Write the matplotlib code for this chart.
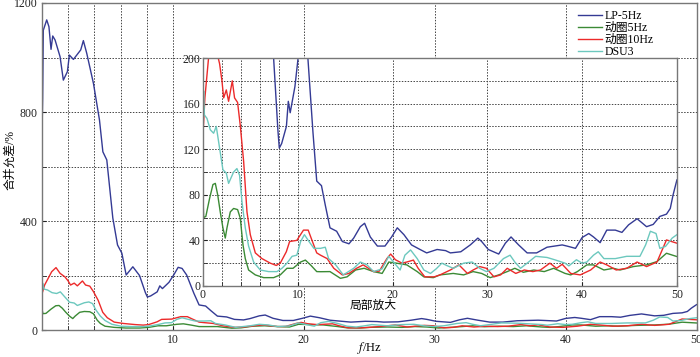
import numpy as np
import matplotlib
matplotlib.use('Agg')
import matplotlib.pyplot as plt

plt.rcParams['font.family'] = ['Liberation Serif', 'Noto Sans CJK SC']
plt.rcParams['mathtext.fontset'] = 'stix'

# LP-5Hz
f_lp = [0, 0.05, 0.1, 0.36, 0.53, 0.69, 0.82, 1.0, 1.38, 1.63, 1.94, 2.09, 2.4, 2.96, 3.16, 3.42,
        3.93, 4.39, 4.65, 4.95, 5.41, 5.77, 6.1, 6.43, 6.94, 7.45, 7.9, 8.05, 8.3, 8.8, 9.0, 9.2, 9.7,
        10.1, 10.4, 10.7, 11.05, 11.6, 12.0, 12.5, 12.9, 13.4, 14.1, 14.7, 15.4, 15.9, 16.6, 17.05,
        17.65, 18.4, 19.2, 19.9, 20.5, 21.2, 22.0, 22.9, 23.6, 24.7, 25.6, 26.1, 27.2, 28.2, 29.0,
        29.4, 30.1, 31.2, 31.9, 32.5, 33.3, 34.2, 35.2, 36.3, 37.1, 37.9, 38.4, 39.3, 40.0, 40.7,
        41.2, 41.9, 42.6, 43.5, 44.2, 44.9, 45.8, 46.8, 47.5, 48.2, 48.9, 49.3, 49.6, 50]
v_lp = [720, 850, 1100, 1138, 1113, 1030, 1079, 1064, 1003, 917, 948, 1009, 993, 1028, 1062, 1015,
        905, 771, 654, 624, 411, 312, 282, 202, 232, 200, 137, 121, 125, 140, 162, 152, 175,
        205, 230, 226, 202, 135, 92, 88, 71, 51, 48, 39, 37, 42, 52, 55,
        43, 35, 35, 43, 51, 45, 36, 32, 29, 32, 31, 29, 30, 36, 42,
        39, 32, 28, 37.5, 43, 36, 29, 29, 34, 35, 36, 35, 33, 42.5, 46,
        43, 38, 49, 49, 47, 53.6, 59, 52, 54, 61, 63, 68, 80, 93]

# 动圈5Hz
f_g5 = [0, 0.07, 0.3, 0.7, 1.05, 1.3, 1.55, 1.82, 2.1, 2.35, 2.53, 2.88, 3.23, 3.65, 3.93, 4.22,
        4.46, 4.81, 5.52, 6.4, 7.45, 8.15, 8.86, 9.5, 10.3, 10.8, 11.4, 12.0, 12.4, 13.4, 14.5,
        15.2, 16.1, 17.0, 18.0, 18.9, 19.6, 20.4, 21.5, 22.6, 23.3, 24.3, 25.0, 26.4, 27.5, 28.5,
        29.4, 30.3, 31.2, 32.1, 32.9, 33.8, 34.9, 36.0, 37.0, 38.2, 38.8, 39.5, 40.5, 41.2, 42.3,
        43.3, 44.0, 45.4, 46.8, 47.9, 48.9, 50]
v_g5 = [77, 60, 61, 77, 89, 90, 80, 65, 51, 42, 51, 65, 68, 67, 59.5, 36,
        24, 14, 9.7, 7.3, 7.3, 9.7, 15.5, 15.5, 21, 22.7, 18, 12.6, 12.5, 12.6, 6.7,
        8, 14, 15.5, 12.6, 11, 21, 20, 18.5, 12.6, 8, 7.3, 9.7, 11, 9.7, 12.6,
        11, 7.3, 9.7, 12.6, 15.5, 12, 14, 12.6, 15.5, 11, 9.7, 12.6, 18.5, 18.5, 14,
        15.5, 14, 17, 18.5, 21.4, 28.7, 25.8]

# 动圈10Hz
f_g10 = [0, 0.2, 0.74, 1.07, 1.38, 1.75, 2.0, 2.18, 2.46, 2.7, 3.09, 3.33, 3.65, 3.93, 4.29, 4.64,
         4.99, 5.52, 6.22, 7.1, 7.73, 8.15, 8.79, 9.14, 9.9, 10.6, 11.1, 11.5, 12.0, 12.4, 13.1,
         13.8, 14.7, 15.4, 16.2, 16.9, 18.0, 18.6, 19.4, 19.8, 20.3, 21.0, 21.5, 22.2, 22.7, 23.4,
         24.4, 25.0, 26.1, 27.0, 27.9, 28.5, 29.2, 29.9, 30.7, 31.4, 32.1, 33.0, 33.9, 34.8, 35.6,
         36.6, 37.3, 37.9, 38.8, 39.8, 40.9, 41.9, 42.6, 43.6, 44.7, 45.8, 46.8, 47.9, 48.9, 50]
v_g10 = [133, 165, 214, 229, 208, 195, 180, 165, 172, 162, 180, 165, 161, 141, 109, 65,
         45, 29, 24, 20, 18, 20, 30, 39, 40, 49, 49, 40, 29, 27, 24,
         15.5, 9.7, 11, 15.5, 18.5, 12.6, 13, 24, 28, 23, 20, 21, 22.7, 15.5, 8,
         8, 9.7, 14, 18.5, 11, 14, 17, 15.5, 8, 9.7, 15.5, 11, 14, 12.6, 14,
         20, 15.5, 19, 11, 9.7, 14, 21, 18.5, 14, 15.5, 21, 17, 21, 40.4, 37.5]

# DSU3
f_dsu = [0, 0.07, 0.15, 0.42, 0.77, 1.12, 1.4, 1.75, 2.1, 2.46, 2.7, 3.23, 3.58, 3.86, 4.11, 4.46,
         4.81, 5.34, 6.04, 6.92, 7.8, 8.33, 8.86, 9.4, 9.9, 10.3, 10.7, 11.1, 11.7, 12.4, 12.9,
         13.25, 14.0, 14.8, 15.9, 16.6, 17.3, 18.0, 18.9, 19.6, 20.1, 20.8, 21.3, 21.9, 22.6,
         23.3, 24.0, 24.6, 25.2, 25.7, 26.4, 27.5, 28.4, 29.2, 29.9, 30.7, 31.7, 32.4, 32.9, 33.5,
         34.2, 35.1, 36.3, 37.1, 38.2, 38.6, 39.4, 40.0, 40.5, 41.2, 41.7, 42.3, 43.5, 44.7, 46.1,
         46.7, 47.2, 47.8, 48.2, 48.8, 49.5, 50]
v_dsu = [160, 171, 150, 147, 137, 134, 140, 121, 102, 99, 90, 100, 103, 97, 74, 51,
         35, 21, 14, 12.6, 12.6, 15.5, 20, 26, 27, 39, 45, 40, 33, 33, 34,
         24, 18.5, 9.7, 15.5, 21, 18.5, 12.6, 15, 26, 21, 14, 27, 31.6, 24,
         14, 11, 15, 20, 18, 15.5, 20, 21, 15.5, 12.6, 15.5, 24, 27, 21, 15.5,
         20, 26, 25, 23, 20, 17.6, 23, 20, 21, 27, 30, 24, 24, 26, 26,
         36, 48, 46, 33, 34.7, 42, 45]

series = [
    (f_lp, v_lp, 'LP-5Hz', '#343a94'),
    (f_g5, v_g5, '动圈5Hz', '#3b8a35'),
    (f_g10, v_g10, '动圈10Hz', '#ec2a2a'),
    (f_dsu, v_dsu, 'DSU3', '#6cc8be'),
]

fs = 8.5
fig = plt.figure(figsize=(7, 3.57), dpi=100)

grid_kw = dict(color='#444444', linestyle=(0, (1.5, 1.5)), linewidth=0.7)

# main axes
ax = fig.add_axes([0.06, 0.0756, 0.935, 0.916])
for f, v, name, col in series:
    ax.plot(f, v, color=col, lw=1.0, label=name)
ax.set_xlim(0, 50)
ax.set_ylim(0, 1200)
ax.set_xticks([10, 20, 30, 40, 50])
ax.set_xticks([2, 4, 6, 8], minor=True)
ax.set_yticks([0, 400, 800, 1200])
ax.set_yticks([200, 600, 1000], minor=True)
ax.grid(True, which='both', **grid_kw)
ax.tick_params(which='both', direction='in', length=3, labelsize=fs, colors='#222222', pad=3)
for s in ax.spines.values():
    s.set_color('#777777')
    s.set_linewidth(1.0)
ax.set_xlabel('$f$/Hz', fontsize=fs + 0.5)
ax.xaxis.set_label_coords(0.5, -0.032)
ax.set_ylabel('合并允差/%', fontsize=fs)
ax.yaxis.set_label_coords(-0.04, 0.52)
leg = ax.legend(loc='upper left', bbox_to_anchor=(0.814, 0.99), fontsize=fs, frameon=True,
                fancybox=False, edgecolor='white', framealpha=1, handlelength=2.0,
                labelspacing=0.0, borderpad=0.2, handletextpad=0.2, borderaxespad=0.1)

# inset zoom
ins = fig.add_axes([0.29, 0.199, 0.677, 0.6385])
ins.set_facecolor('white')
for f, v, name, col in series:
    ins.plot(f, v, color=col, lw=1.0)
ins.set_xlim(0, 50)
ins.set_ylim(0, 200)
ins.set_xticks([0, 10, 20, 30, 40, 50])
ins.set_xticks([2, 4, 6, 8], minor=True)
ins.set_yticks([0, 40, 80, 120, 160, 200])
ins.set_yticks([20, 60, 100, 140, 180], minor=True)
ins.grid(True, which='both', **grid_kw)
ins.tick_params(which='both', direction='in', length=3, labelsize=fs, colors='#222222', pad=2)
for s in ins.spines.values():
    s.set_color('#777777')
    s.set_linewidth(1.0)
ins.set_xlabel('局部放大', fontsize=fs)
ins.xaxis.set_label_coords(0.36, -0.062)

fig.savefig('out.png', dpi=100)
